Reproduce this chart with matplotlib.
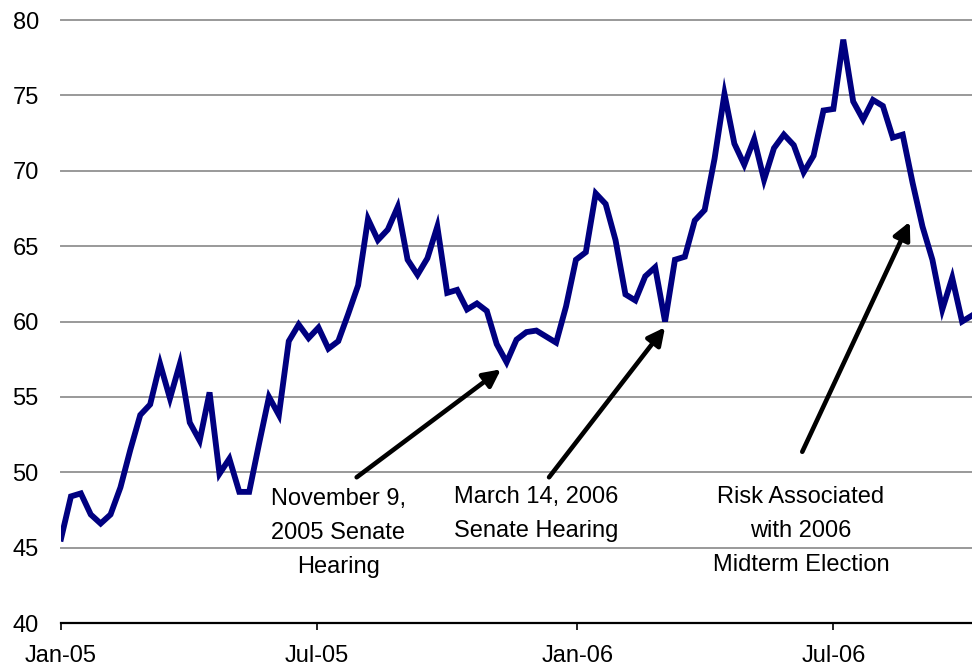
import numpy as np
import pandas as pd
import matplotlib
matplotlib.use('Agg')
import matplotlib.pyplot as plt
import matplotlib.dates as mdates

plt.rcParams['font.family'] = ['Liberation Sans', 'DejaVu Sans']

# weekly index values (Jan 2005 - early Oct 2006)
start_date = '2005-01-01'
values = [45.6, 48.4, 48.6, 47.2, 46.6, 47.2, 49.0, 51.5, 53.8, 54.5,
          57.2, 54.9, 57.2, 53.3, 52.1, 55.3, 49.9, 50.9, 48.7, 48.7,
          51.9, 55.0, 53.8, 58.7, 59.8, 58.9, 59.6, 58.2, 58.7, 60.5,
          62.4, 66.8, 65.4, 66.1, 67.6, 64.1, 63.1, 64.2, 66.3, 61.9,
          62.1, 60.8, 61.2, 60.7, 58.5, 57.3, 58.8, 59.3, 59.4, 59.0,
          58.6, 61.0, 64.1, 64.6, 68.5, 67.8, 65.4, 61.8, 61.4, 63.0,
          63.6, 60.0, 64.1, 64.3, 66.7, 67.4, 70.8, 75.1, 71.8, 70.4,
          72.1, 69.4, 71.5, 72.4, 71.7, 69.9, 71.0, 74.0, 74.1, 78.7,
          74.6, 73.4, 74.7, 74.3, 72.2, 72.4, 69.2, 66.3, 64.1, 60.8,
          62.9, 60.0, 60.4]
dates = pd.date_range(start_date, periods=len(values), freq='7D')

xtick_dates = ['2005-01-01', '2005-07-01', '2006-01-01', '2006-07-01']
yticks = [40, 45, 50, 55, 60, 65, 70, 75, 80]

# annotations: text, text centre, arrow tail, arrow tip
notes = ['November 9,\n2005 Senate\nHearing',
         'March 14, 2006\nSenate Hearing',
         'Risk Associated\nwith 2006\nMidterm Election']
note_xy = [('2005-07-16', 45.95), ('2005-12-03', 47.25), ('2006-06-08', 46.1)]
arrow_tail = [('2005-07-29', 49.67), ('2005-12-12', 49.67), ('2006-06-09', 51.36)]
arrow_tip = [('2005-11-08', 56.83), ('2006-03-04', 59.62), ('2006-08-24', 66.62)]

fig = plt.figure(figsize=(9.72, 6.70), dpi=100)
ax = fig.add_axes([0.0628, 0.0701, 0.9372, 0.900])

ax.plot(dates, values, color='#000080', lw=4.2, solid_joinstyle='miter', zorder=3)

ax.set_ylim(40, 80)
ax.set_xlim(pd.Timestamp(start_date), dates[-1])
ax.set_yticks(yticks)
ax.set_yticklabels([str(v) for v in yticks])
for v in yticks[1:]:
    ax.axhline(v, color='#999999', lw=1.4, zorder=1, clip_on=False)

ax.set_xticks([pd.Timestamp(d) for d in xtick_dates])
ax.xaxis.set_major_formatter(mdates.DateFormatter('%b-%y'))

for s in ['left', 'top', 'right']:
    ax.spines[s].set_visible(False)
ax.spines['bottom'].set_color('black')
ax.spines['bottom'].set_linewidth(1.6)

ax.tick_params(axis='y', length=0, pad=16, labelsize=17)
ax.tick_params(axis='x', length=5, width=1.2, direction='out', pad=11, labelsize=17)

for txt, pos, tail, tip in zip(notes, note_xy, arrow_tail, arrow_tip):
    ax.text(pd.Timestamp(pos[0]), pos[1], txt, ha='center', va='center',
            multialignment='center', fontsize=17, linespacing=1.7, zorder=4)
    ax.annotate('', xy=(pd.Timestamp(tip[0]), tip[1]),
                xytext=(pd.Timestamp(tail[0]), tail[1]),
                arrowprops=dict(arrowstyle='-|>', color='black', lw=3.3,
                                mutation_scale=26, shrinkA=0, shrinkB=0,
                                capstyle='round'),
                zorder=4)

fig.savefig('out.png', dpi=100)
